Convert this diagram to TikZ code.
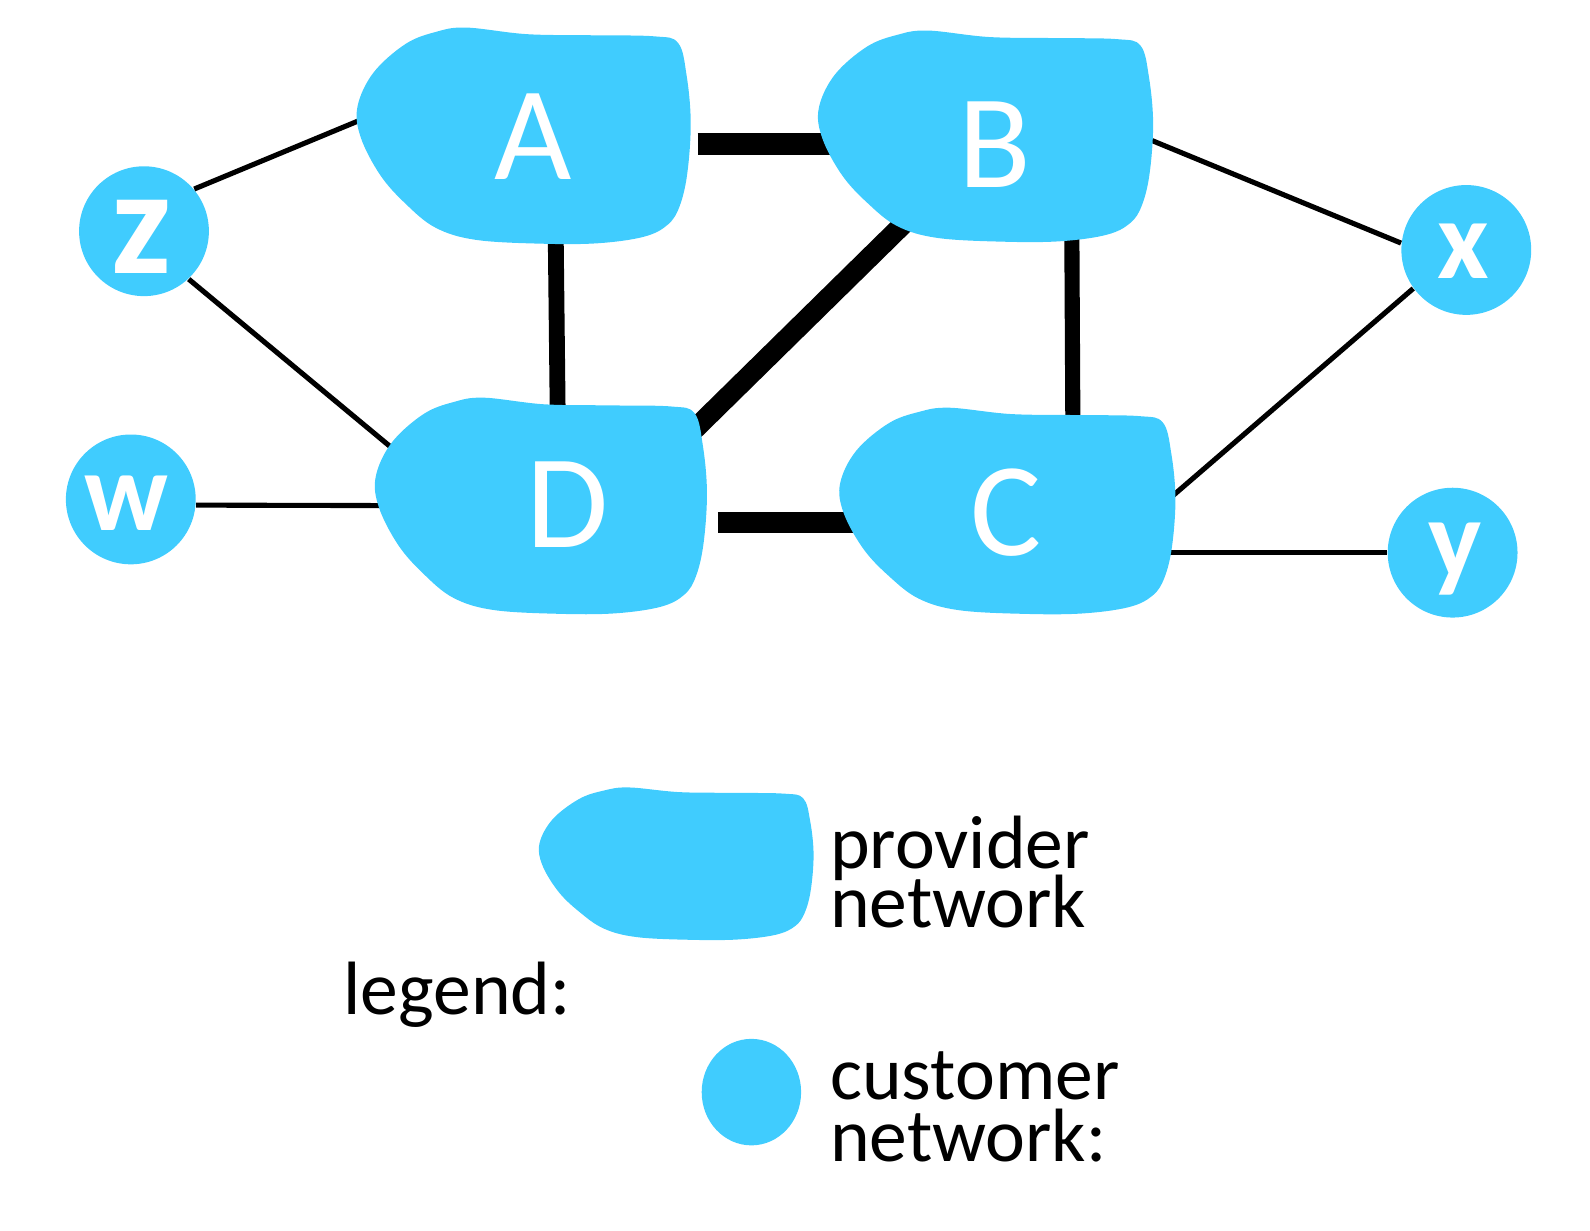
\documentclass[tikz,border=0pt]{standalone}
\usepackage{fontspec}
\setmainfont{Carlito}
\usetikzlibrary{shapes.geometric}
\definecolor{netblue}{HTML}{40CCFE}
\newcommand\provblob[4]{%
  \begin{scope}[shift={(#1,#2)},xscale=#3,yscale=#4]
    \fill[netblue] plot[smooth cycle,tension=0.6] coordinates {
      (-0.34,-0.98) (0.02,-0.92) (0.40,-0.91) (0.78,-0.90) (0.92,-0.84)
      (0.97,-0.55) (0.995,-0.12) (0.975,0.34) (0.93,0.64) (0.86,0.81)
      (0.72,0.92) (0.45,0.98) (0.12,0.985) (-0.28,0.95) (-0.52,0.84)
      (-0.70,0.62) (-0.85,0.36) (-0.965,0.02) (-0.985,-0.26) (-0.89,-0.57)
      (-0.70,-0.83) (-0.52,-0.94)};
  \end{scope}}
\begin{document}
\begin{tikzpicture}[x=0.1014mm,y=-0.1014mm,
  cust/.style={circle,fill=netblue,minimum size=12.98mm,inner sep=0pt},
  legcust/.style={ellipse,fill=netblue,minimum width=9.94mm,minimum height=10.65mm,inner sep=0pt},
  link/.style={line width=1.45pt},
  biglbl/.style={text=white,font=\fontsize{38}{40}\selectfont,inner sep=0pt},
  custlbl/.style={text=white,font=\bfseries\fontsize{32}{34}\selectfont,inner sep=0pt},
  legtxt/.style={font=\fontsize{21.5}{18}\selectfont,align=left,inner sep=0pt}]
\useasboundingbox (0,0) rectangle (1568,1213);

% customer networks
\node[cust] (z) at (142,228) {};
\node[cust] (w) at (129,492.5) {};
\node[cust] (x) at (1446,246.5) {};
\node[cust] (y) at (1432.5,545) {};

% connector ports inside provider networks
\coordinate (Az) at (366,114);
\coordinate (Dz) at (400,453);
\coordinate (Dw) at (385,498.6);
\coordinate (Ab) at (688,142);
\coordinate (Ba) at (830,142);
\coordinate (Ad) at (548,230);
\coordinate (Da) at (550,410);
\coordinate (Bd) at (900,212);
\coordinate (Db) at (670,438);
\coordinate (Bc) at (1057,230);
\coordinate (Cb) at (1058,415);
\coordinate (Dc) at (708,515);
\coordinate (Cd) at (845,515);
\coordinate (Bx) at (1120,132);
\coordinate (Cx) at (1146,498);
\coordinate (Cy) at (1145,545);

% links
\draw[link] (z.40) -- (Az);
\draw[link] (z.-47) -- (Dz);
\draw[link] (w.-5) -- (Dw);
\draw[link] (Bx) -- (x.174.5);
\draw[link] (Cx) -- (x.216);
\draw[link] (Cy) -- (y.180);
\draw[line width=6pt] (Ab) -- (Ba);
\draw[line width=4.5pt] (Ad) -- (Da);
\draw[line width=5.8pt] (Bd) -- (Db);
\draw[line width=4.3pt] (Bc) -- (Cb);
\draw[line width=6pt] (Dc) -- (Cd);

% provider networks
\provblob{516}{133.5}{166}{108.5}
\provblob{971.5}{134}{166.5}{106}
\provblob{533}{498.5}{165}{108.5}
\provblob{993}{503.5}{167}{103.5}

\node[biglbl,anchor=base] (A) at (526,177) {A};
\node[biglbl,anchor=base] (B) at (981,185) {B};
\node[biglbl,anchor=base] (D) at (560,540) {D};
\node[biglbl,anchor=base] (C) at (992,548) {C};

\node[custlbl,anchor=base,font=\bfseries\fontsize{43}{45}\selectfont] (zl) at (140,270) {z};
\node[custlbl,anchor=base] (wl) at (125,523) {w};
\node[custlbl,anchor=base] (xl) at (1443,275) {x};
\node[custlbl,anchor=base] (yl) at (1435,570) {y};

% legend
\provblob{666.5}{851.5}{136.5}{76.5}
\node[legcust] (lc) at (741,1077) {};
\node[legtxt,anchor=base west] (lp) at (818,915) {provider\\[-2.6pt]network};
\node[legtxt,anchor=base west] (lg) at (338,1000) {legend:};
\node[legtxt,anchor=base west] (ln) at (818,1145) {customer\\[-0.6pt]network:};
\end{tikzpicture}
\end{document}
